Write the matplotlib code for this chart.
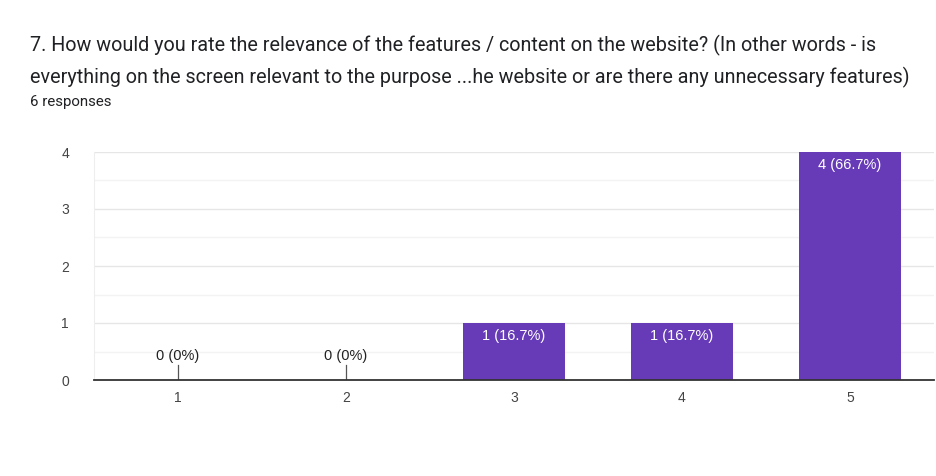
import matplotlib
matplotlib.use("Agg")
import matplotlib.pyplot as plt
import numpy as np

categories = ["1", "2", "3", "4", "5"]
counts = [0, 0, 1, 1, 4]
labels = ["0 (0%)", "0 (0%)", "1 (16.7%)", "1 (16.7%)", "4 (66.7%)"]
title_lines = ["7. How would you rate the relevance of the features / content on the website? (In other words - is",
               "everything on the screen relevant to the purpose ...he website or are there any unnecessary features)"]
subtitle = "6 responses"

plt.rcParams['font.family'] = ['Liberation Sans', 'DejaVu Sans']
W, H = 936, 476
fig = plt.figure(figsize=(W/100, H/100), dpi=100)
ax = fig.add_axes([94/W, 1-380/H, (934-94)/W, (380-152)/H])

x = np.arange(len(categories))
ax.bar(x, counts, width=0.607, color="#673AB7", zorder=3)
ax.set_xlim(-0.5, len(categories)-0.5)
ax.set_ylim(0, 4)
ax.set_yticks([0, 1, 2, 3, 4])
ax.set_yticks([0.5, 1.5, 2.5, 3.5], minor=True)
ax.grid(axis='y', which='major', color="#e6e6e6", lw=1, zorder=0)
ax.grid(axis='y', which='minor', color="#f3f3f3", lw=1, zorder=0)
ax.set_xticks(x)
ax.set_xticklabels(categories)
ax.tick_params(axis='both', which='both', length=0, labelsize=10, colors="#444444")
ax.tick_params(axis='y', pad=18)
ax.tick_params(axis='x', pad=8)
for s in ['top', 'right']:
    ax.spines[s].set_visible(False)
ax.spines['left'].set_color("#eeeeee")
ax.spines['bottom'].set_color("#333333")
ax.spines['bottom'].set_linewidth(1.3)
ax.spines['bottom'].set_zorder(4)

for xi, c, lab in zip(x, counts, labels):
    if c == 0:
        ax.plot([xi, xi], [0, 0.26], color="#555555", lw=0.9, zorder=4)
        ax.text(xi, 0.3, lab, ha='center', va='bottom', fontsize=10.5, color="#222222")
    else:
        ax.annotate(lab, (xi, c), xytext=(0, -4), textcoords='offset points',
                    ha='center', va='top', fontsize=10.5, color="white", zorder=5)

tfont = ['Roboto', 'DejaVu Sans']
fig.text(30/W, 1-45/H, title_lines[0], ha='left', va='center', fontsize=14.2, color="#202124", family=tfont)
fig.text(30/W, 1-77/H, title_lines[1], ha='left', va='center', fontsize=14.2, color="#202124", family=tfont)
fig.text(30/W, 1-102/H, subtitle, ha='left', va='center', fontsize=10.8, color="#202124", family=tfont)

fig.savefig("out.png", dpi=100)
